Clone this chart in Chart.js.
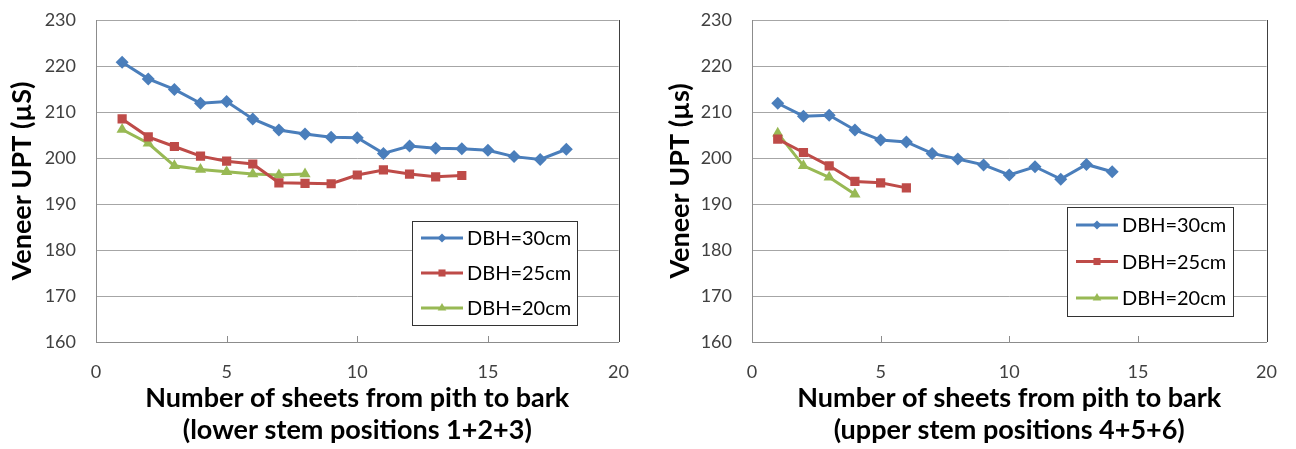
<!DOCTYPE html>
<html>
<head>
<meta charset="utf-8">
<script src="https://cdn.jsdelivr.net/npm/chart.js@4.4.1/dist/chart.umd.min.js"></script>
<style>
  html, body { margin: 0; padding: 0; background: #fff; }
  .wrap { display: flex; width: 1296px; height: 449px; }
  canvas { display: block; }
</style>
</head>
<body>
<div class="wrap">
  <canvas id="lower" width="648" height="449"></canvas>
  <canvas id="upper" width="648" height="449"></canvas>
</div>
<script>
// data
const seriesNames = ["DBH=30cm", "DBH=25cm", "DBH=20cm"];
const yTicks = [160, 170, 180, 190, 200, 210, 220, 230];
const xTicks = [0, 5, 10, 15, 20];

// lower stem positions 1+2+3
const lowerSheets30 = [1, 2, 3, 4, 5, 6, 7, 8, 9, 10, 11, 12, 13, 14, 15, 16, 17, 18];
const lowerUpt30 = [220.8, 217.2, 214.9, 211.9, 212.3, 208.5, 206.1, 205.2, 204.5, 204.4, 201.0, 202.6, 202.1, 202.0, 201.7, 200.3, 199.7, 201.9];
const lowerSheets25 = [1, 2, 3, 4, 5, 6, 7, 8, 9, 10, 11, 12, 13, 14];
const lowerUpt25 = [208.5, 204.6, 202.5, 200.4, 199.3, 198.7, 194.6, 194.5, 194.4, 196.3, 197.4, 196.5, 195.9, 196.2];
const lowerSheets20 = [1, 2, 3, 4, 5, 6, 7, 8];
const lowerUpt20 = [206.2, 203.2, 198.3, 197.5, 197.0, 196.5, 196.3, 196.5];

// upper stem positions 4+5+6
const upperSheets30 = [1, 2, 3, 4, 5, 6, 7, 8, 9, 10, 11, 12, 13, 14];
const upperUpt30 = [211.9, 209.1, 209.3, 206.1, 203.9, 203.5, 201.0, 199.8, 198.5, 196.3, 198.1, 195.4, 198.6, 197.0];
const upperSheets25 = [1, 2, 3, 4, 5, 6];
const upperUpt25 = [204.1, 201.2, 198.3, 194.9, 194.6, 193.5];
const upperSheets20 = [1, 2, 3, 4];
const upperUpt20 = [205.4, 198.3, 195.8, 192.1];

const colors = ["#4a7ebb", "#be4b48", "#98b954"];
const markers = ["rectRot", "rect", "triangle"];
const markerSize = [6.5, 6.5, 6.5];
const legendMarkerSize = [4.5, 5, 5];
const fontFamily = "Lato, 'Open Sans', sans-serif";

function pairs(xs, ys) {
  return xs.map((x, i) => ({ x: x, y: ys[i] }));
}

// frame: inward x ticks, right border and the boxed legend
const frame = {
  id: "frame",
  afterDraw(chart, args, opts) {
    const { ctx, chartArea: a } = chart;
    const x = chart.scales.x;
    ctx.save();
    ctx.strokeStyle = "#8c8c8c";
    ctx.lineWidth = 1;
    ctx.beginPath();
    xTicks.forEach((v) => {
      const px = Math.round(x.getPixelForValue(v)) + 0.5;
      ctx.moveTo(px, a.bottom);
      ctx.lineTo(px, a.bottom - 6);
    });
    ctx.stroke();

    ctx.strokeStyle = "#404040";
    ctx.beginPath();
    ctx.moveTo(Math.round(a.right) + 0.5, a.top);
    ctx.lineTo(Math.round(a.right) + 0.5, a.bottom);
    ctx.stroke();

    // legend
    const L = opts.legend;
    ctx.fillStyle = "#fff";
    ctx.fillRect(L.x, L.y, L.w, L.h);
    ctx.strokeStyle = "#333";
    ctx.lineWidth = 1;
    ctx.strokeRect(L.x + 0.5, L.y + 0.5, L.w, L.h);
    ctx.font = "20px " + fontFamily;
    ctx.textBaseline = "middle";
    chart.data.datasets.forEach((ds, i) => {
      const cy = L.y + L.first + i * L.gap;
      ctx.strokeStyle = ds.borderColor;
      ctx.lineWidth = 3;
      ctx.beginPath();
      ctx.moveTo(L.x + 9, cy);
      ctx.lineTo(L.x + 51, cy);
      ctx.stroke();
      ctx.fillStyle = ds.borderColor;
      Chart.helpers.drawPoint(ctx, {
        pointStyle: ds.pointStyle,
        radius: legendMarkerSize[i],
        rotation: 0,
        borderWidth: 0
      }, L.x + 30, cy);
      ctx.fillStyle = "#000";
      ctx.fillText(ds.label, L.x + 55, cy + 1);
    });
    ctx.restore();
  }
};

function makeChart(id, sets, yTitle, subtitle, geo) {
  const ctx = document.getElementById(id).getContext("2d");
  return new Chart(ctx, {
    type: "line",
    data: {
      datasets: sets.map((s, i) => ({
        label: seriesNames[i],
        data: pairs(s[0], s[1]),
        borderColor: colors[i],
        backgroundColor: colors[i],
        pointBackgroundColor: colors[i],
        pointBorderColor: colors[i],
        pointStyle: markers[i],
        pointRadius: markerSize[i],
        pointBorderWidth: 0,
        borderWidth: 3,
        tension: 0,
        fill: false,
      })),
    },
    options: {
      responsive: false,
      animation: false,
      layout: {
        padding: { top: 20, right: geo.right, left: 0, bottom: 3 },
      },
      plugins: {
        legend: { display: false },
        tooltip: { enabled: false },
        frame: { legend: geo.legend },
      },
      scales: {
        x: {
          type: "linear",
          min: 0,
          max: 20,
          afterBuildTicks: (s) => { s.ticks = xTicks.map((v) => ({ value: v })); },
          afterFit: (s) => { s.height = 449 - 3 - 342; },
          grid: { display: false, drawTicks: false },
          border: { display: true, color: "#8c8c8c", width: 1 },
          ticks: {
            padding: 19,
            color: "#404040",
            font: { size: 18, family: fontFamily },
          },
          title: {
            display: true,
            text: ["Number of sheets from pith to bark", subtitle],
            color: "#000",
            padding: { top: 0, bottom: 0 },
            font: { size: 27, weight: "bold", family: fontFamily, lineHeight: 1.19 },
          },
        },
        y: {
          min: 160,
          max: 230,
          afterBuildTicks: (s) => { s.ticks = yTicks.map((v) => ({ value: v })); },
          afterFit: (s) => {
            s.width = geo.left;
            s.paddingTop = 10;
            s.paddingBottom = 10;
          },
          grid: { color: "#a6a6a6", lineWidth: 1, drawTicks: false },
          border: { display: true, color: "#8c8c8c", width: 1 },
          ticks: {
            padding: 20,
            color: "#404040",
            font: { size: 18, family: fontFamily },
          },
          title: {
            display: true,
            text: yTitle,
            color: "#000",
            padding: { top: geo.titlePad, bottom: 0 },
            font: { size: 27, weight: "bold", family: fontFamily, lineHeight: 1.2 },
          },
        },
      },
    },
    plugins: [frame],
  });
}

makeChart("lower",
  [[lowerSheets30, lowerUpt30], [lowerSheets25, lowerUpt25], [lowerSheets20, lowerUpt20]],
  "Veneer UPT (\u00b5S)",
  "(lower stem positions 1+2+3)",
  { left: 96, right: 26, titlePad: 6,
    legend: { x: 412, y: 221, w: 165, h: 104, first: 17, gap: 35 } });

makeChart("upper",
  [[upperSheets30, upperUpt30], [upperSheets25, upperUpt25], [upperSheets20, upperUpt20]],
  "Veneer UPT (\u00b5s)",
  "(upper stem positions 4+5+6)",
  { left: 104, right: 19, titlePad: 16,
    legend: { x: 419, y: 207, w: 166, h: 109, first: 18, gap: 36.5 } });
</script>
</body>
</html>
